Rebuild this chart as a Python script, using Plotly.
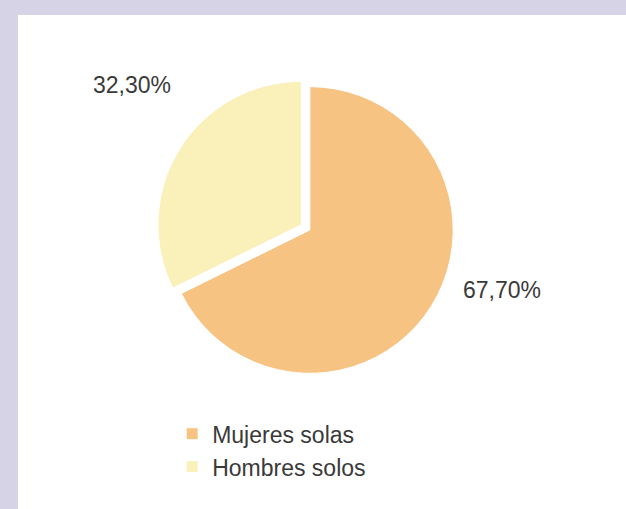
import plotly.graph_objects as go

labels = ["Mujeres solas", "Hombres solos"]
values = [67.7, 32.3]
colors = ["#F7C382", "#FAF0BA"]
pulls = [0, 0.07]
# label anchor points (paper coords) for the percentage texts
label_pos = [(502 / 626, 1 - 290 / 509), (132 / 626, 1 - 85 / 509)]

W, H = 626, 509
FONT = "Liberation Sans, Arial"

fig = go.Figure()
fig.add_trace(go.Pie(
    labels=labels,
    values=values,
    sort=False,
    direction="clockwise",
    rotation=0,
    pull=pulls,
    marker=dict(colors=colors, line=dict(color="white", width=1)),
    textposition="none",
    domain=dict(x=[0.250, 0.740], y=[0.2466, 0.8497]),
    hoverinfo="label+percent",
    automargin=False,
))

total = sum(values)
annotations = []
for v, (ax, ay) in zip(values, label_pos):
    pct = f"{100 * v / total:.2f}".replace(".", ",") + "%"
    annotations.append(dict(
        text=pct, x=ax, y=ay, xref="paper", yref="paper",
        xanchor="center", yanchor="middle", showarrow=False,
        font=dict(family=FONT, size=23, color="#3a3a3a"),
    ))

fig.update_layout(
    width=W, height=H,
    margin=dict(l=0, r=0, t=0, b=0),
    paper_bgcolor="#D7D3E7",
    separators=",.",
    showlegend=True,
    legend=dict(
        x=0.275, y=0.19, xanchor="left", yanchor="top",
        bgcolor="rgba(0,0,0,0)",
        font=dict(family=FONT, size=23, color="#3a3a3a"),
        traceorder="normal",
        tracegroupgap=0,
    ),
    annotations=annotations,
    shapes=[dict(
        type="rect", xref="paper", yref="paper",
        x0=18 / W, x1=1, y0=0, y1=(H - 15) / H,
        fillcolor="white", line=dict(width=0), layer="below",
    )],
)

fig.write_html("out.html")
